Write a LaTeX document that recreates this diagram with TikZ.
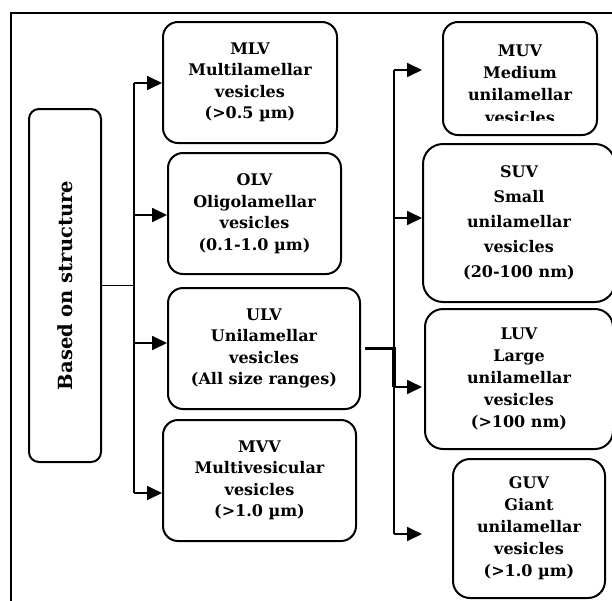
\documentclass[tikz,border=0pt]{standalone}
\usepackage{fontspec}
\setmainfont{DejaVu Serif}
\usetikzlibrary{arrows.meta,calc}
\begin{document}
\begin{tikzpicture}[x=1pt,y=-1pt,
 box/.style={draw,line width=2pt,rounded corners=15pt,align=center,inner sep=0pt,font=\bfseries\fontsize{16}{21.5}\selectfont},
 txt/.style={align=center,inner sep=0pt,font=\bfseries\fontsize{16}{22.3}\selectfont},
 conn/.style={line width=1.8pt},
 thick conn/.style={line width=3.2pt},
 arr/.style={line width=1.8pt,-{Triangle[length=15pt,width=14pt]}}]
\useasboundingbox (0,0) rectangle (612,600);
\clip (0,0) rectangle (612,600);
\draw[line width=1.6pt] (11,13) rectangle (620,610);
% left box
\node[box, minimum width=72pt, minimum height=353pt, rounded corners=10pt] (lb) at (65,285.5) {};
\node[rotate=90, inner sep=0pt, font=\bfseries\fontsize{19.5}{20}\selectfont] (lbt) at (lb.center) {Based on structure};
% middle column
\node[box, minimum width=174pt, minimum height=121pt] (mlv) at (250,82.5) {MLV\\Multilamellar\\vesicles\\(>0.5 µm)};
\node[box, minimum width=173pt, minimum height=121pt] (olv) at (254.5,213.5) {OLV\\Oligolamellar\\vesicles\\(0.1-1.0 µm)};
\node[box, minimum width=192pt, minimum height=121pt] (ulv) at (264,348.5) {ULV\\Unilamellar\\vesicles\\(All size ranges)};
\node[box, minimum width=193pt, minimum height=121pt] (mvv) at (259.5,480.5) {MVV\\Multivesicular\\vesicles\\(>1.0 µm)};
% right column
\node[box, minimum width=154pt, minimum height=113pt] (muv) at (520,78.5) {};
\begin{scope}
\clip (443,22) rectangle (597,120);
\node[txt] (muvt) at (520,84) {MUV\\Medium\\unilamellar\\vesicles};
\end{scope}
\node[box, minimum width=192pt, minimum height=158pt, rounded corners=20pt, font=\bfseries\fontsize{16}{25}\selectfont] (suv) at (519,223) {SUV\\Small\\unilamellar\\vesicles\\(20-100 nm)};
\node[box, minimum width=188pt, minimum height=140pt, rounded corners=18pt, font=\bfseries\fontsize{16}{22}\selectfont] (luv) at (519,379) {LUV\\Large\\unilamellar\\vesicles\\(>100 nm)};
\node[box, minimum width=152pt, minimum height=139pt, rounded corners=17pt, font=\bfseries\fontsize{16}{22}\selectfont] (guv) at (529,528.5) {GUV\\Giant\\unilamellar\\vesicles\\(>1.0 µm)};
% left connectors
\coordinate (a1) at (134,83);
\coordinate (a2) at (134,215);
\coordinate (a3) at (134,343);
\coordinate (a4) at (134,493);
\draw[conn] (lb.east) -- (lb.east -| a1);
\draw[conn] (a1) -- (a4);
\draw[arr] (a1) -- (a1 -| mlv.west);
\draw[arr] (a2) -- (a2 -| olv.west);
\draw[arr] (a3) -- (a3 -| ulv.west);
\draw[arr] (a4) -- (a4 -| mvv.west);
% right connectors
\coordinate (b1) at (394,70);
\coordinate (b2) at (394,218);
\coordinate (b3) at (394,387);
\coordinate (b4) at (394,534);
\coordinate (e1) at (422,70);
\coordinate (e2) at (422,218);
\coordinate (e3) at (422,387);
\coordinate (e4) at (422,534);
\draw[conn] (b1) -- (b4);
\draw[thick conn] ($(ulv.east)+(4,0)$) -- (ulv.east -| b1) -- (b3);
\draw[arr] (b1) -- (e1);
\draw[arr] (b2) -- (e2);
\draw[arr] (b3) -- (e3);
\draw[arr] (b4) -- (e4);
\end{tikzpicture}
\end{document}
